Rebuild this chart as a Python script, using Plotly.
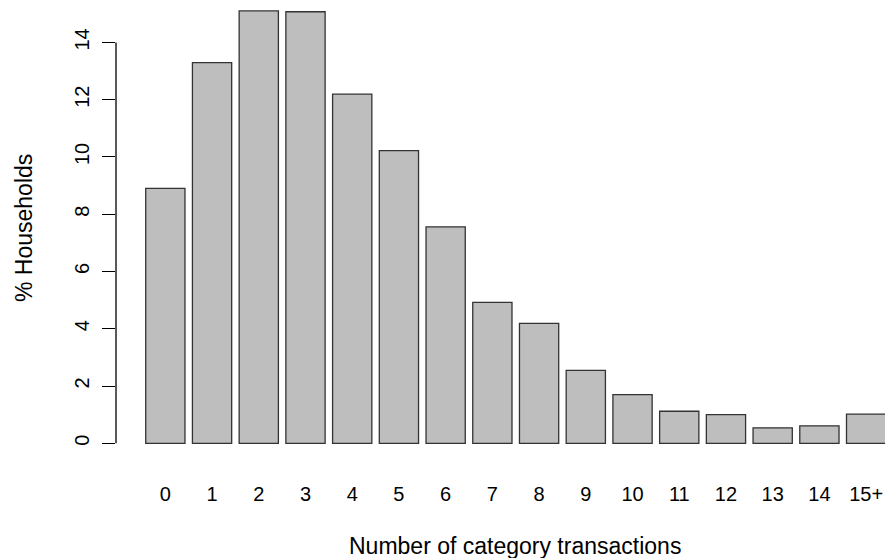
import plotly.graph_objects as go

categories = ["0", "1", "2", "3", "4", "5", "6", "7", "8", "9", "10", "11", "12", "13", "14", "15+"]
pct_households = [8.90, 13.29, 15.10, 15.07, 12.19, 10.22, 7.56, 4.92, 4.19, 2.55, 1.70, 1.12, 1.00, 0.54, 0.61, 1.02]
y_ticks = [0, 2, 4, 6, 8, 10, 12, 14]

FONT = "Liberation Sans, Arial, sans-serif"
FS_TICK = 20
FS_TITLE = 23

fig = go.Figure(
    go.Bar(
        x=categories,
        y=pct_households,
        marker=dict(color="#bebebe", line=dict(color="#333333", width=1.3)),
        width=0.84,
        hoverinfo="x+y",
    )
)

fig.update_layout(
    width=885,
    height=558,
    margin=dict(l=116, r=0, t=0, b=98),
    paper_bgcolor="white",
    plot_bgcolor="white",
    showlegend=False,
    font=dict(family=FONT, size=FS_TICK, color="black"),
    xaxis=dict(
        type="category",
        range=[-1.056, 15.404],
        showgrid=False,
        zeroline=False,
        showline=False,
        ticks="",
        ticklabelstandoff=20,
        tickfont=dict(family=FONT, size=FS_TICK, color="black"),
    ),
    yaxis=dict(
        range=[-0.583, 15.48],
        tickvals=y_ticks,
        ticktext=[str(v) for v in y_ticks],
        showgrid=False,
        zeroline=False,
        showline=False,
        ticks="outside",
        ticklen=13,
        tickwidth=1.3,
        tickcolor="black",
        tickangle=-90,
        ticklabelstandoff=5,
        tickfont=dict(family=FONT, size=FS_TICK, color="black"),
    ),
    shapes=[
        dict(type="line", xref="paper", yref="y", x0=0, x1=0, y0=0, y1=14,
             line=dict(color="black", width=1.3))
    ],
    annotations=[
        dict(text="Number of category transactions", xref="paper", yref="paper",
             x=0.5195, y=-(546 - 460) / 460, xanchor="center", yanchor="middle",
             showarrow=False, font=dict(family=FONT, size=FS_TITLE, color="black")),
        dict(text="% Households", xref="paper", yref="paper",
             x=-(116 - 24) / 769, y=(460 - 228) / 460, xanchor="center", yanchor="middle",
             textangle=-90, showarrow=False,
             font=dict(family=FONT, size=FS_TITLE, color="black")),
    ],
)

fig.write_html("out.html")
